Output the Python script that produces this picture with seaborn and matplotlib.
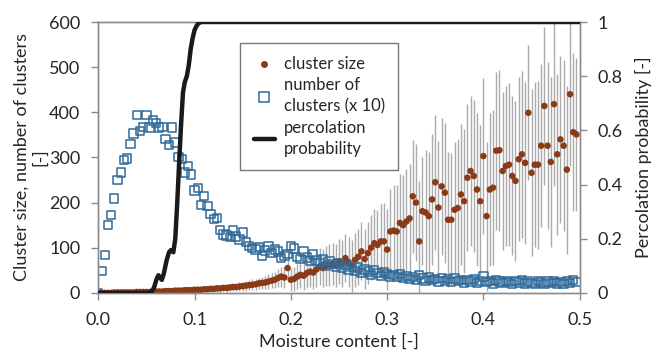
import numpy as np
import pandas as pd
import matplotlib
matplotlib.use("Agg")
import matplotlib.pyplot as plt
from matplotlib.lines import Line2D
import seaborn as sns

# ---------------- data ----------------
step = 1.0 / 300.0
n_pts = 150
moisture = [round(i * step, 5) for i in range(n_pts)]

cluster_size = [
    0, 0, 0, 0, 0, 1, 1, 1, 1, 1, 1, 1, 2, 2, 2,
    2, 2, 3, 3, 3, 3, 4, 4, 4, 5, 5, 5, 6, 6, 6,
    7, 7, 7, 8, 8, 9, 9, 10, 10, 11, 11, 12, 13, 13, 14,
    15, 16, 17, 18, 19, 21, 22, 23, 25, 27, 29, 33, 36, 34, 55,
    29, 31, 36, 40, 38, 44, 47, 45, 52, 58, 55, 60, 62, 64, 60,
    70, 66, 77, 68, 60, 73, 80, 92, 75, 88, 100, 110, 106, 114, 114,
    96, 136, 138, 136, 155, 150, 158, 165, 214, 200, 114, 181, 178, 170, 207,
    245, 189, 236, 222, 162, 162, 184, 188, 218, 203, 255, 270, 259, 229, 203,
    303, 170, 229, 233, 315, 316, 270, 281, 284, 259, 248, 296, 307, 288, 399,
    266, 284, 284, 326, 414, 326, 290, 418, 307, 340, 326, 273, 440, 356, 351,
]

cluster_size_err = [
    0, 0, 0, 0, 0, 1, 1, 1, 1, 1, 1, 1, 1, 1, 1,
    1, 1, 2, 2, 2, 2, 2, 3, 3, 3, 3, 3, 4, 4, 4,
    4, 5, 5, 5, 6, 6, 6, 7, 7, 7, 8, 8, 9, 9, 10,
    10, 11, 11, 12, 12, 13, 14, 15, 16, 17, 18, 19, 22, 24, 26,
    25, 26, 28, 30, 31, 33, 35, 36, 38, 41, 42, 44, 46, 47, 48,
    50, 52, 54, 56, 57, 60, 62, 64, 66, 69, 72, 75, 78, 82, 86,
    90, 95, 100, 104, 108, 112, 117, 121, 125, 129, 133, 120, 138, 141, 145,
    150, 148, 152, 155, 150, 147, 150, 153, 157, 160, 163, 167, 168, 170, 168,
    172, 165, 170, 172, 175, 178, 175, 178, 180, 176, 178, 182, 185, 180, 150,
    185, 183, 186, 180, 175, 185, 188, 182, 178, 185, 190, 186, 160, 175, 170,
]

clusters_x10 = [
    0, 49, 84, 150, 173, 209, 250, 267, 294, 298, 330, 353, 394, 358, 368,
    394, 366, 382, 377, 366, 368, 341, 327, 366, 333, 301, 297, 267, 281, 262,
    227, 233, 194, 214, 192, 175, 164, 166, 140, 129, 127, 124, 138, 125, 118,
    134, 112, 104, 99, 96, 101, 82, 94, 103, 89, 96, 92, 77, 81, 86,
    104, 98, 80, 75, 92, 78, 70, 85, 72, 66, 74, 60, 70, 64, 58,
    66, 55, 62, 50, 58, 48, 56, 44, 52, 47, 40, 50, 44, 38, 46,
    42, 36, 40, 35, 42, 33, 38, 30, 35, 28, 40, 32, 26, 34, 29,
    31, 25, 33, 27, 30, 24, 32, 26, 29, 23, 28, 25, 31, 22, 27,
    36, 24, 26, 21, 28, 25, 22, 27, 24, 20, 26, 23, 28, 21, 25,
    22, 19, 26, 23, 20, 25, 22, 27, 21, 24, 19, 26, 22, 28, 24,
]

perc_x = [0.0, 0.05, 0.055, 0.058, 0.0605, 0.0625, 0.0645, 0.066, 0.068, 0.071,
          0.0735, 0.0755, 0.078, 0.080, 0.082, 0.084, 0.086, 0.088, 0.090,
          0.092, 0.094, 0.096, 0.098, 0.100, 0.102, 0.104, 0.107, 0.11, 0.5]
perc_p = [0.0, 0.0, 0.003, 0.02, 0.05, 0.065, 0.055, 0.048, 0.07, 0.12,
          0.15, 0.158, 0.15, 0.2, 0.33, 0.48, 0.62, 0.74, 0.78,
          0.8, 0.84, 0.9, 0.94, 0.97, 0.985, 0.995, 1.0, 1.0, 1.0]

x_ticks = [0.0, 0.1, 0.2, 0.3, 0.4, 0.5]
x_tick_labels = ["0.0", "0.1", "0.2", "0.3", "0.4", "0.5"]
left_ticks = [0, 100, 200, 300, 400, 500, 600]
right_ticks = [0, 0.2, 0.4, 0.6, 0.8, 1.0]
right_tick_labels = ["0", "0.2", "0.4", "0.6", "0.8", "1"]

# ---------------- style ----------------
sns.set_style("white")
plt.rcParams["font.family"] = ["Lato", "DejaVu Sans"]

BROWN = "#8b3a16"
BLUE = "#2f6a98"
GREY = "#ababab"
SPINE = "#8a8a8a"
TEXT = "#262626"

df_cs = pd.DataFrame({"x": moisture, "size": cluster_size, "err": cluster_size_err})
df_nc = pd.DataFrame({"x": moisture, "n": clusters_x10})
df_p = pd.DataFrame({"x": perc_x, "p": perc_p})

fig = plt.figure(figsize=(6.55, 3.55), dpi=100)
ax = fig.add_axes([0.150, 0.175, 0.735, 0.763])

ax.errorbar(df_cs["x"], df_cs["size"], yerr=df_cs["err"], fmt="none",
            ecolor=GREY, elinewidth=1.0, capsize=0, zorder=1)
sns.scatterplot(data=df_cs, x="x", y="size", ax=ax, color=BROWN, s=22,
                edgecolor="none", zorder=2, legend=False)
sns.scatterplot(data=df_nc, x="x", y="n", ax=ax, marker="s", s=36,
                facecolors="none", edgecolors=BLUE, linewidths=1.1,
                zorder=3, legend=False)

ax.set_xlim(0, 0.5)
ax.set_ylim(0, 600)
ax.set_xticks(x_ticks)
ax.set_xticklabels(x_tick_labels)
ax.set_yticks(left_ticks)
ax.set_xlabel("Moisture content [-]", fontsize=13, labelpad=4, color=TEXT)
ax.set_ylabel("Cluster size, number of clusters\n[-]", fontsize=13,
              linespacing=1.15, labelpad=0.5, color=TEXT)

ax2 = ax.twinx()
sns.lineplot(data=df_p, x="x", y="p", ax=ax2, color="#1a1a1a", lw=3.2,
             legend=False, zorder=5)
ax2.set_ylim(0, 1.0)
ax2.set_yticks(right_ticks)
ax2.set_yticklabels(right_tick_labels)
ax2.set_ylabel("Percolation probability [-]", fontsize=13, labelpad=9,
               color=TEXT)
ax2.set_xlim(0, 0.5)

for a in (ax, ax2):
    for sp in a.spines.values():
        sp.set_visible(True)
        sp.set_color(SPINE)
        sp.set_linewidth(1.0)
    a.tick_params(axis="both", which="major", direction="out", length=5,
                  width=1.0, color=SPINE, labelsize=13, labelcolor=TEXT)
    a.grid(False)
ax.tick_params(axis="y", left=True, right=False, pad=8)
ax.tick_params(axis="x", bottom=True, pad=9)
ax2.tick_params(axis="y", right=True, left=False, pad=8)

handles = [
    Line2D([], [], marker="o", ls="none", color=BROWN, markersize=5,
           markeredgecolor="none"),
    Line2D([], [], marker="s", ls="none", markerfacecolor="none",
           markeredgecolor=BLUE, markersize=7, markeredgewidth=1.1),
    Line2D([], [], color="#1a1a1a", lw=3.2),
]
labels = ["cluster size", "number of\nclusters (x 10)", "percolation\nprobability"]
leg = ax2.legend(handles, labels, loc="upper left",
                 bbox_to_anchor=(0.295, 0.922), fontsize=12, frameon=True,
                 fancybox=False, edgecolor="#555555", handlelength=1.3,
                 handletextpad=0.5, borderpad=0.8, labelspacing=0.3,
                 borderaxespad=0)
leg.get_frame().set_linewidth(1.0)
for t in leg.get_texts():
    t.set_linespacing(1.4)
    t.set_color(TEXT)

fig.savefig("out.png", dpi=100)
